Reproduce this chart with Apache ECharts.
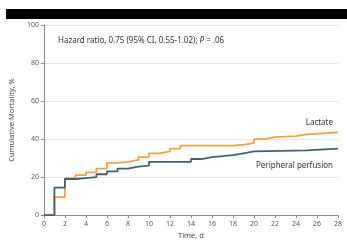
<!DOCTYPE html>
<html>
<head>
<meta charset="utf-8">
<script src="https://cdn.jsdelivr.net/npm/echarts@6/dist/echarts.min.js"></script>
<style>
  html, body { margin: 0; padding: 0; background: #fff; }
  #km { width: 347px; height: 245px; }
</style>
</head>
<body>
<div id="km"></div>
<script>
// 생존곡선 데이터 (day, cumulative mortality %)
var lactateDays = [0, 1, 2, 3, 4, 5, 6, 7, 8, 9, 10, 11, 12, 13, 18, 19, 20, 21, 22, 24, 25, 28];
var lactateVals = [0, 9.5, 19.5, 21, 22.5, 24.5, 27.5, 28, 29, 30.5, 32.5, 33.5, 35, 36.5, 37, 38, 40, 41, 41.5, 42.5, 43.5, 43.5];
var perfusionDays = [0, 1, 2, 3, 4, 5, 6, 7, 8, 9, 10, 14, 15, 16, 18, 19, 20, 25, 28];
var perfusionVals = [0, 14.5, 19, 19.5, 20, 21.5, 23, 24.5, 25.5, 26, 28, 29.5, 30.5, 31.5, 32.5, 33.5, 34, 35, 35];
var yTicks = [0, 20, 40, 60, 80, 100];
var xTicks = [0, 2, 4, 6, 8, 10, 12, 14, 16, 18, 20, 22, 24, 26, 28];

function pairs(xs, ys) {
    return xs.map(function (x, i) { return [x, ys[i]]; });
}

var myChart = echarts.init(document.getElementById('km'));

var font = 'Noto Sans';
var option = {
    animation: false,
    textStyle: { fontFamily: font },
    grid: { left: 36, right: 9, top: 25, bottom: 28, containLabel: false },
    xAxis: {
        type: 'value',
        min: 0, max: 28, interval: 2,
        name: 'Time, d',
        nameLocation: 'middle',
        nameGap: 16,
        nameTextStyle: { fontSize: 7.5, color: '#444', fontFamily: font },
        axisLine: { lineStyle: { color: '#888', width: 1 } },
        axisTick: { length: 3, lineStyle: { color: '#888' } },
        axisLabel: { fontSize: 7, color: '#555', margin: 5,
            formatter: function (v) { return xTicks.indexOf(v) >= 0 ? v : ''; } },
        splitLine: { show: false }
    },
    yAxis: {
        type: 'value',
        min: 0, max: 100, interval: 20,
        name: 'Cumulative Mortality, %',
        nameLocation: 'middle',
        nameGap: 23,
        nameTextStyle: { fontSize: 7.5, color: '#444', fontFamily: font },
        axisLine: { show: true, lineStyle: { color: '#888', width: 1 } },
        axisTick: { show: true, length: 3, lineStyle: { color: '#888' } },
        axisLabel: { fontSize: 7, color: '#555', margin: 5,
            formatter: function (v) { return yTicks.indexOf(v) >= 0 ? v : ''; } },
        splitLine: { lineStyle: { color: '#e4e4e4', width: 1 } }
    },
    graphic: [
        { type: 'rect', shape: { x: 6, y: 9, width: 341, height: 10 }, style: { fill: '#000' } },
        { type: 'text', left: 58, top: 37,
          style: { text: '{a|Hazard ratio, 0.75 (95% CI, 0.55-1.02); }{i|P}{a| = .06}',
                   rich: { a: { fontSize: 8, fill: '#333', fontFamily: font },
                           i: { fontSize: 8, fill: '#333', fontFamily: font, fontStyle: 'italic' } } } },
        { type: 'text', right: 14, top: 119,
          style: { text: 'Lactate', fontSize: 8, fill: '#333', fontFamily: font } },
        { type: 'text', right: 14, top: 162,
          style: { text: 'Peripheral perfusion', fontSize: 8, fill: '#333', fontFamily: font } }
    ],
    series: [{
        name: 'Lactate',
        type: 'line',
        step: 'end',
        symbol: 'none',
        color: '#f4a33c',
        lineStyle: { width: 1.8 },
        data: pairs(lactateDays, lactateVals)
    }, {
        name: 'Peripheral perfusion',
        type: 'line',
        step: 'end',
        symbol: 'none',
        color: '#3e6370',
        lineStyle: { width: 1.8 },
        data: pairs(perfusionDays, perfusionVals)
    }]
};

myChart.setOption(option);

window.addEventListener('resize', function () {
    myChart.resize();
});
</script>
</body>
</html>
